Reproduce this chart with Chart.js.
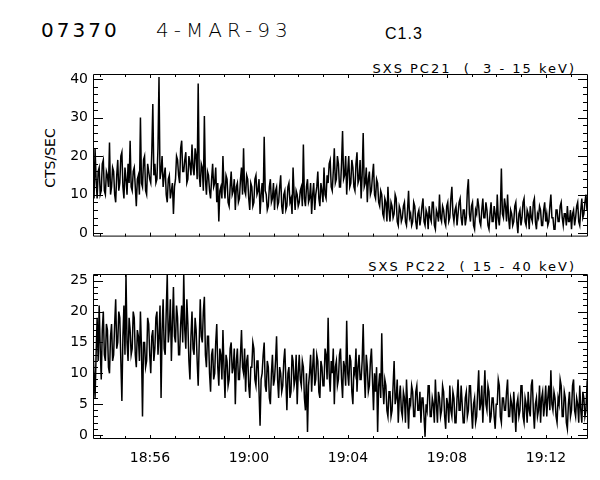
<!DOCTYPE html>
<html>
<head>
<meta charset="utf-8">
<script src="https://cdn.jsdelivr.net/npm/chart.js@4/dist/chart.umd.min.js"></script>
<style>
  body { margin: 0; background: #fff; }
  #wrap { position: relative; width: 600px; height: 480px; font-family: "DejaVu Sans", sans-serif; color: #000; }
  .txt { position: absolute; white-space: pre; line-height: 1; }
  canvas { position: absolute; left: 0; }
</style>
</head>
<body>
<div id="wrap">
  <div class="txt" style="left:41px; top:20px; font-size:20px; letter-spacing:3px;">07370</div>
  <div class="txt" style="left:156px; top:20px; font-size:20px; font-weight:200; letter-spacing:5px;">4-MAR-93</div>
  <div class="txt" style="left:385px; top:26px; font-size:16px; font-family:'Liberation Sans', sans-serif; letter-spacing:1px;">C1.3</div>
  <div class="txt" style="right:24px; top:62px; font-size:13px; letter-spacing:2px;">SXS PC21  (  3 - 15 keV)</div>
  <div class="txt" style="right:24px; top:260px; font-size:13px; letter-spacing:2px;">SXS PC22  ( 15 - 40 keV)</div>
  <div class="txt" style="left:50px; top:158px; font-size:14px; transform:translate(-50%,-50%) rotate(-90deg);">CTS/SEC</div>
  <canvas id="top" width="600" height="250" style="top:0"></canvas>
  <canvas id="bottom" width="600" height="230" style="top:250px"></canvas>
</div>
<script>
// time axis: seconds since 18:00 UT, one sample every 2.5 s
const startSec = 53 * 60 + 42;   // 18:53:42
const cadence = 2.5;
const xMin = startSec;
const xMax = startSec + 1200;

const xTickSec = [56 * 60, 60 * 60, 64 * 60, 68 * 60, 72 * 60];
const xTickLabels = ['18:56', '19:00', '19:04', '19:08', '19:12'];

const pc21Ticks = [0, 10, 20, 30, 40];
const pc22Ticks = [0, 5, 10, 15, 20, 25];

// SXS PC21 (3 - 15 keV), counts/sec
const pc21 = [
  12, 9, 22, 14, 9, 16, 17, 10, 11, 18, 19, 11, 10, 16, 15, 12, 23.5, 10, 12, 17,
  16, 10, 8, 15, 19, 11, 13, 20, 21, 12, 9, 17, 14, 10, 18, 13, 24, 12, 11, 16,
  17, 12, 7, 14, 15, 10, 30, 13, 12, 19, 20, 11, 10, 18, 16, 14, 13, 21, 33.5, 15,
  18, 13, 14, 22, 40.5, 14, 16, 20, 12, 15, 17, 10, 8, 14, 15, 9, 11, 13, 5, 12,
  14, 20, 19, 15, 13, 22, 24, 16, 16, 19, 21, 13, 14, 20, 18, 15, 23, 17, 15, 22,
  20, 14, 38.8, 15, 12, 18, 17, 11, 30.4, 14, 10, 16, 15, 11, 9, 14, 18, 12, 13, 17,
  8, 13, 3, 11, 12, 9, 20, 12, 9, 15, 14, 8, 7, 12, 16, 10, 11, 14, 6, 12,
  13, 8, 9, 14, 17, 10, 22, 11, 10, 15, 14, 9, 6, 13, 12, 7, 8, 14, 15, 10,
  11, 14, 5, 10, 13, 8, 25, 11, 10, 6, 7, 12, 14, 8, 9, 13, 6, 11, 12, 7,
  8, 12, 15, 7, 5, 10, 11, 6, 7, 12, 13, 8, 9, 5, 17, 10, 6, 11, 10, 7,
  8, 11, 12, 7, 23, 9, 7, 12, 14, 8, 9, 13, 5, 10, 13, 6, 10, 12, 16, 9,
  7, 13, 11, 8, 17, 10, 9, 15, 13, 18, 19, 12, 11, 16, 22, 13, 14, 20, 18, 12,
  12, 18, 26.5, 14, 15, 20, 10, 16, 20, 12, 13, 19, 17, 12, 11, 18, 21, 13, 14, 19,
  9, 15, 26, 12, 13, 17, 8, 14, 16, 10, 11, 15, 18, 10, 9, 14, 13, 8, 7, 11,
  10, 5, 4, 9, 8, 3, 12, 6, 3, 8, 7, 4, 5, 10, 9, 3, 2, 7, 6, 3,
  4, 7, 8, 3, 2, 6, 11, 4, 5, 2, 3, 8, 7, 3, 1, 5, 6, 2, 4, 7,
  9, 3, 2, 6, 5, 1, 7, 4, 3, 8, 8, 2, 1, 6, 5, 3, 10, 4, 3, 7,
  6, 3, 2, 7, 8, 3, 4, 9, 12, 5, 3, 6, 7, 2, 5, 8, 9, 4, 2, 6,
  6, 2, 4, 11, 14, 5, 3, 7, 8, 2, 1, 6, 5, 9, 7, 3, 2, 6, 9, 4,
  4, 8, 6, 2, 1, 5, 8, 3, 3, 7, 5, 1, 10, 4, 2, 6, 16.8, 5, 4, 9,
  7, 3, 10, 4, 1, 6, 5, 2, 3, 7, 8, 3, 0, 5, 6, 2, 4, 8, 9, 3,
  2, 6, 5, 1, 7, 4, 3, 8, 9, 3, 1, 5, 4, 7, 6, 2, 2, 6, 8, 3,
  5, 2, 3, 7, 10, 4, 4, 1, 1, 6, 6, 3, 3, 7, 8, 4, 2, 5, 5, 2,
  7, 3, 3, 6, 1, 5, 6, 2, 4, 7, 8, 3, 2, 6, 9, 4, 5, 8, 10, 6,
  6
];

// SXS PC22 (15 - 40 keV), counts/sec
const pc22 = [
  14, 10, 6, 13, 19, 12, 21, 14, 9, 17, 20, 13, 12, 18, 17, 11, 10, 16, 18, 12,
  13, 18, 22, 14, 15, 20, 19, 12, 5.5, 16, 21, 13, 26, 15, 12, 19, 17, 13, 14, 20,
  19, 13, 11, 17, 16, 12, 20, 14, 3, 15, 15, 11, 12, 19, 18, 13, 10, 16, 17, 12,
  14, 19, 20, 13, 16, 21, 6, 17, 22, 14, 13, 20, 26, 15, 17, 22, 12, 18, 24, 16,
  15, 21, 19, 13, 13, 18, 21, 15, 26, 17, 14, 22, 18, 12, 9, 16, 20, 14, 13, 19,
  17, 12, 8, 15, 22, 16, 15, 20, 22.4, 13, 11, 16, 16, 10, 7, 13, 14, 9, 10, 15,
  18, 11, 8, 14, 13, 9, 17, 11, 6, 13, 12, 8, 9, 14, 15, 10, 11, 14, 5, 12,
  14, 9, 9, 13, 17, 11, 10, 14, 7, 12, 13, 8, 6, 11, 11, 15, 14, 9, 8, 12,
  12, 7, 1.5, 9, 10, 13, 15, 8, 7, 12, 11, 6, 5, 10, 13, 8, 9, 12, 16, 9,
  6, 11, 10, 7, 8, 12, 14, 9, 4, 10, 11, 6, 7, 13, 12, 8, 9, 13, 5, 10,
  13, 9, 8, 12, 11, 6, 4, 10, 0.5, 8, 10, 13, 7, 11, 14, 8, 9, 13, 12, 7,
  6, 12, 11, 8, 8, 14, 13, 9, 19, 10, 7, 12, 10, 14, 5, 11, 12, 8, 9, 13,
  14, 9, 6, 12, 11, 8, 18.5, 10, 8, 13, 12, 7, 5, 11, 10, 14, 7, 11, 13, 9,
  9, 12, 18, 10, 6, 13, 11, 7, 8, 12, 14, 9, 4, 10, 7, 11, 0.5, 8, 10, 6,
  16.5, 8, 5, 9, 8, 4, 3, 7, 7, 3, 4, 8, 12, 5, 6, 9, 2, 6, 8, 4,
  3, 7, 6, 2, 9, 5, 1, 6, 5, 8, 7, 3, 3, 7, 8, 4, 4, 7, 2, 6,
  6, 3, -0.3, 5, 4, 8, 8, 3, 3, 6, 5, 2, 9, 5, 2, 7, 6, 3, 4, 8,
  7, 3, 1, 6, 5, 2, 8, 4, 3, 7, 6, 2, 2, 6, 9, 4, 4, 8, 5, 2,
  2, 6, 7, 3, 4, 8, 8, 4, 1, 5, 6, 2, 3, 7, 10.5, 4, 5, 8, 2, 6,
  10.5, 5, 4, 8, 7, 2, 3, 6, 6, 3, 1, 5, 5, 9, 8, 3, 2, 6, 6, 4,
  4, 7, 9, 3, 3, 6, 5, 2, 7, 4, 0.5, 5, 6, 3, 4, 8, 8, 3, 2, 6,
  5, 2, 7, 4, 3, 8, 9, 4, 1, 5, 6, 3, 4, 8, 2, 6, 7, 3, 5, 8,
  3, 6, 8, 4, 10.5, 5, 4, 7, 6, 3, 2, 6, 5, 9, 8, 3, 3, 7, 6, 2,
  1, 5, 7, 3, 4, 8, 9, 4, 3, 6, 5, 2, 8, 4, 2, 7, 6, 3, 4, 8,
  7
];

function toPoints(arr) {
  return arr.map((v, i) => ({ x: startSec + i * cadence, y: v }));
}

// IDL style frame with inward ticks on all four sides
const frameTicks = {
  id: 'frameTicks',
  afterDatasetsDraw(chart, args, opts) {
    const { ctx, chartArea: a } = chart;
    const xs = chart.scales.x, ys = chart.scales.y;
    ctx.save();
    ctx.strokeStyle = '#000';
    ctx.lineWidth = 1;
    ctx.beginPath();
    ctx.rect(a.left + 0.5, a.top + 0.5, a.right - a.left - 1, a.bottom - a.top - 1);

    // y ticks
    const n0 = Math.ceil(ys.min / opts.yMinor), n1 = Math.floor(ys.max / opts.yMinor);
    for (let n = n0; n <= n1; n++) {
      const v = n * opts.yMinor;
      const len = opts.yMajor.includes(v) ? 10 : 5;
      const py = Math.round(ys.getPixelForValue(v)) + 0.5;
      ctx.moveTo(a.left, py); ctx.lineTo(a.left + len, py);
      ctx.moveTo(a.right, py); ctx.lineTo(a.right - len, py);
    }
    // x ticks every minute
    for (let s = Math.ceil(xs.min / 60) * 60; s <= xs.max; s += 60) {
      const len = xTickSec.includes(s) ? 4 : 3;
      const px = Math.round(xs.getPixelForValue(s)) + 0.5;
      ctx.moveTo(px, a.top); ctx.lineTo(px, a.top + len);
      ctx.moveTo(px, a.bottom); ctx.lineTo(px, a.bottom - len);
    }
    ctx.stroke();
    ctx.restore();
  }
};

function makeChart(id, data, yMin, yMax, yTicks, yMinor, showX, pad) {
  return new Chart(document.getElementById(id), {
    type: 'line',
    data: {
      datasets: [{
        data: toPoints(data),
        borderColor: '#000',
        borderWidth: 1.5,
        pointRadius: 0,
        tension: 0
      }]
    },
    options: {
      responsive: false,
      animation: false,
      devicePixelRatio: 1,
      layout: { padding: pad },
      plugins: {
        legend: { display: false },
        tooltip: { enabled: false },
        frameTicks: { yMajor: yTicks, yMinor: yMinor }
      },
      scales: {
        x: {
          type: 'linear',
          min: xMin,
          max: xMax,
          display: showX,
          grid: { display: false, drawTicks: false },
          border: { display: false },
          afterBuildTicks: s => { s.ticks = xTickSec.map(v => ({ value: v })); },
          afterFit: s => { s.height = showX ? 41 : 0; },
          ticks: {
            padding: 11,
            color: '#000',
            font: { family: 'DejaVu Sans', size: 14 },
            maxRotation: 0,
            callback: v => xTickLabels[xTickSec.indexOf(v)]
          }
        },
        y: {
          min: yMin,
          max: yMax,
          grid: { display: false, drawTicks: false },
          border: { display: false },
          afterBuildTicks: s => { s.ticks = yTicks.map(v => ({ value: v })); },
          afterFit: s => { s.width = 93; },
          ticks: {
            padding: 5,
            color: '#000',
            font: { family: 'DejaVu Sans', size: 14 }
          }
        }
      }
    },
    plugins: [frameTicks]
  });
}

makeChart('top', pc21, -0.9, 41.3, pc21Ticks, 2, false, { left: 0, right: 12, top: 74, bottom: 11 });
makeChart('bottom', pc22, -0.65, 26.1, pc22Ticks, 1, true, { left: 0, right: 12, top: 24, bottom: 0 });
</script>
</body>
</html>
